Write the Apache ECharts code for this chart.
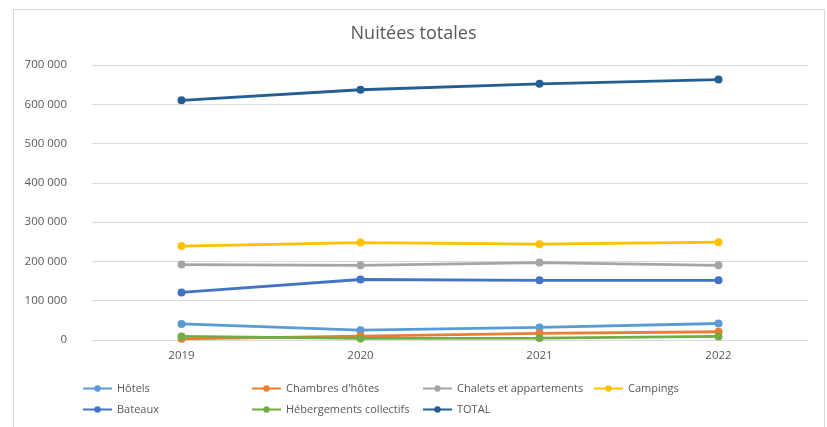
<!DOCTYPE html>
<html><head><meta charset="utf-8">
<script src="https://cdn.jsdelivr.net/npm/echarts@6/dist/echarts.min.js"></script>
<style>html,body{margin:0;padding:0;background:#fff}#c{width:827px;height:427px}</style>
</head><body><div id="c"></div>
<script>
const years = ['2019','2020','2021','2022'];
const hotels = [41000, 25000, 32000, 42000];
const chambres = [3000, 10000, 17000, 21000];
const chalets = [192000, 190000, 197000, 190000];
const campings = [239000, 248000, 244000, 249000];
const bateaux = [121000, 154000, 152000, 152000];
const hebergements = [9000, 4000, 5000, 9000];
const total = [610000, 637000, 652000, 663000];

const names = ['Hôtels','Chambres d\'hôtes','Chalets et appartements','Campings','Bateaux','Hébergements collectifs','TOTAL'];
const values = [hotels, chambres, chalets, campings, bateaux, hebergements, total];
const colors = ['#5B9BD5','#ED7D31','#A5A5A5','#FFC000','#4472C4','#70AD47','#255E91'];
const legendPos = [[82,389],[251,389],[422,389],[593,389],[82,410],[251,410],[422,410]];
const font = 'Open Sans, Liberation Sans, sans-serif';

const chart = echarts.init(document.getElementById('c'));
chart.setOption({
  animation: false,
  color: colors,
  title: {text: 'Nuitées totales', left: 'center', top: 20,
    textStyle: {fontFamily: font, fontSize: 18, fontWeight: 'normal', color: '#595959'}},
  graphic: [{type: 'rect', shape: {x: 13.5, y: 9.5, width: 811, height: 430},
    style: {fill: 'none', stroke: '#D9D9D9', lineWidth: 1}, z: -1}],
  legend: names.map((n, i) => ({
    data: [n], left: legendPos[i][0], top: legendPos[i][1] - 6,
    itemWidth: 29, itemHeight: 8, padding: 0,
    textStyle: {fontFamily: font, fontSize: 11, color: '#595959'}
  })),
  grid: {left: 92, right: 19, top: 65, bottom: 87},
  xAxis: {type: 'category', data: years, boundaryGap: true,
    axisLine: {lineStyle: {color: '#D9D9D9'}}, axisTick: {show: false},
    axisLabel: {color: '#595959', fontFamily: font, fontSize: 11.5, margin: 10}},
  yAxis: {type: 'value', min: 0, max: 700000, interval: 100000,
    splitLine: {lineStyle: {color: '#D9D9D9'}},
    axisLabel: {color: '#595959', fontFamily: font, fontSize: 11.5, margin: 25,
      formatter: v => String(v).replace(/\B(?=(\d{3})+(?!\d))/g, ' ')}},
  series: names.map((n, i) => ({
    name: n, type: 'line', data: values[i], symbol: 'circle', symbolSize: 8,
    lineStyle: {width: 2.8, color: colors[i]}, itemStyle: {color: colors[i]}
  }))
});
</script></body></html>
